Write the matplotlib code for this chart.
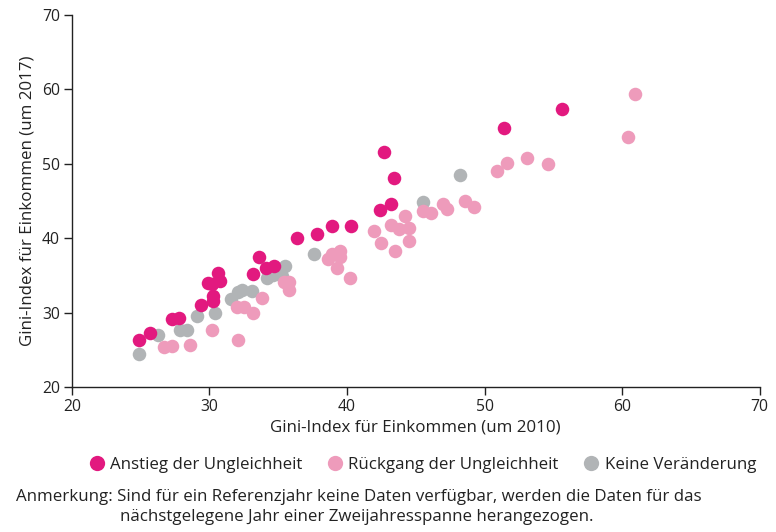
import matplotlib.pyplot as plt
from matplotlib.lines import Line2D

plt.rcParams['font.family'] = ['Open Sans', 'DejaVu Sans']

# Gini-Index um 2010 (x) und um 2017 (y), nach Entwicklung gruppiert
anstieg_2010 = [24.9, 25.7, 27.3, 27.8, 29.4, 29.9, 30.2, 30.6, 30.8, 30.3, 30.3,
                33.2, 33.6, 34.1, 34.7, 36.4, 37.8, 38.9, 40.3, 42.4, 43.2, 42.7,
                43.4, 51.4, 55.6]
anstieg_2017 = [26.3, 27.3, 29.1, 29.2, 31.0, 33.9, 33.8, 35.3, 34.2, 32.2, 31.6,
                35.2, 37.5, 36.0, 36.2, 40.0, 40.6, 41.6, 41.6, 43.8, 44.6, 51.5,
                48.0, 54.8, 57.3]

rueckgang_2010 = [26.7, 27.3, 28.6, 30.2, 32.1, 32.0, 32.5, 33.2, 33.8, 35.4,
                  35.8, 35.8, 38.6, 38.9, 39.5, 39.5, 39.3, 40.2, 42.0, 42.5,
                  43.5, 43.2, 44.2, 43.8, 44.5, 44.5, 45.5, 46.1, 47.0, 47.3,
                  48.6, 49.2, 50.9, 51.6, 53.1, 54.6, 60.4, 60.9]
rueckgang_2017 = [25.4, 25.5, 25.7, 27.7, 26.3, 30.8, 30.8, 30.0, 31.9, 34.1,
                  34.1, 33.0, 37.2, 37.8, 38.2, 37.5, 36.0, 34.6, 41.0, 39.3,
                  38.3, 41.8, 43.0, 41.2, 41.4, 39.6, 43.6, 43.4, 44.6, 43.9,
                  45.0, 44.2, 49.0, 50.1, 50.8, 50.0, 53.5, 59.3]

gleich_2010 = [24.9, 26.3, 27.9, 28.4, 29.1, 30.4, 31.6, 32.1, 32.4, 33.1, 34.2,
               34.6, 35.5, 35.3, 37.6, 45.5, 48.2]
gleich_2017 = [24.5, 27.0, 27.7, 27.6, 29.5, 30.0, 31.8, 32.8, 33.0, 32.9, 34.7,
               35.1, 36.2, 34.9, 37.9, 44.9, 48.4]

farbe_anstieg = '#e2197f'
farbe_rueckgang = '#ee9bbb'
farbe_gleich = '#b1b4b6'
textfarbe = '#222222'

fig = plt.figure(figsize=(7.76, 5.32), dpi=100)
ax = fig.add_axes([0.0925, 0.2725, 0.8865, 0.7002])

groesse = 95
ax.scatter(gleich_2010, gleich_2017, s=groesse, color=farbe_gleich, linewidths=0, zorder=2)
ax.scatter(rueckgang_2010, rueckgang_2017, s=groesse, color=farbe_rueckgang, linewidths=0, zorder=3)
ax.scatter(anstieg_2010, anstieg_2017, s=groesse, color=farbe_anstieg, linewidths=0, zorder=4)

ax.set_xlim(20, 70)
ax.set_ylim(20, 70)
ax.set_xticks(range(20, 71, 10))
ax.set_yticks(range(20, 71, 10))
ax.spines['top'].set_visible(False)
ax.spines['right'].set_visible(False)
for s in ('left', 'bottom'):
    ax.spines[s].set_color(textfarbe)
    ax.spines[s].set_linewidth(1.0)
ax.tick_params(direction='out', length=5.5, width=1.0, color=textfarbe,
               labelcolor=textfarbe, labelsize=11.3, pad=3)

ax.set_xlabel('Gini-Index für Einkommen (um 2010)', fontsize=12.2, color=textfarbe, labelpad=3)
ax.set_ylabel('Gini-Index für Einkommen (um 2017)', fontsize=12.2, color=textfarbe, labelpad=5)

handles = [
    Line2D([], [], marker='o', linestyle='', markersize=11, markerfacecolor=farbe_anstieg,
           markeredgewidth=0, label='Anstieg der Ungleichheit'),
    Line2D([], [], marker='o', linestyle='', markersize=11, markerfacecolor=farbe_rueckgang,
           markeredgewidth=0, label='Rückgang der Ungleichheit'),
    Line2D([], [], marker='o', linestyle='', markersize=11, markerfacecolor=farbe_gleich,
           markeredgewidth=0, label='Keine Veränderung'),
]
leg = fig.legend(handles=handles, loc='center', bbox_to_anchor=(0.543, 0.126), ncol=3,
                 frameon=False, fontsize=12.2, handletextpad=0.2, columnspacing=1.3,
                 handlelength=1.2)
for t in leg.get_texts():
    t.set_color(textfarbe)

fig.text(0.021, 0.066, 'Anmerkung: Sind für ein Referenzjahr keine Daten verfügbar, werden die Daten für das',
         fontsize=12.2, color=textfarbe, va='center')
fig.text(0.155, 0.029, 'nächstgelegene Jahr einer Zweijahresspanne herangezogen.',
         fontsize=12.2, color=textfarbe, va='center')

fig.savefig('out.png', dpi=100)
